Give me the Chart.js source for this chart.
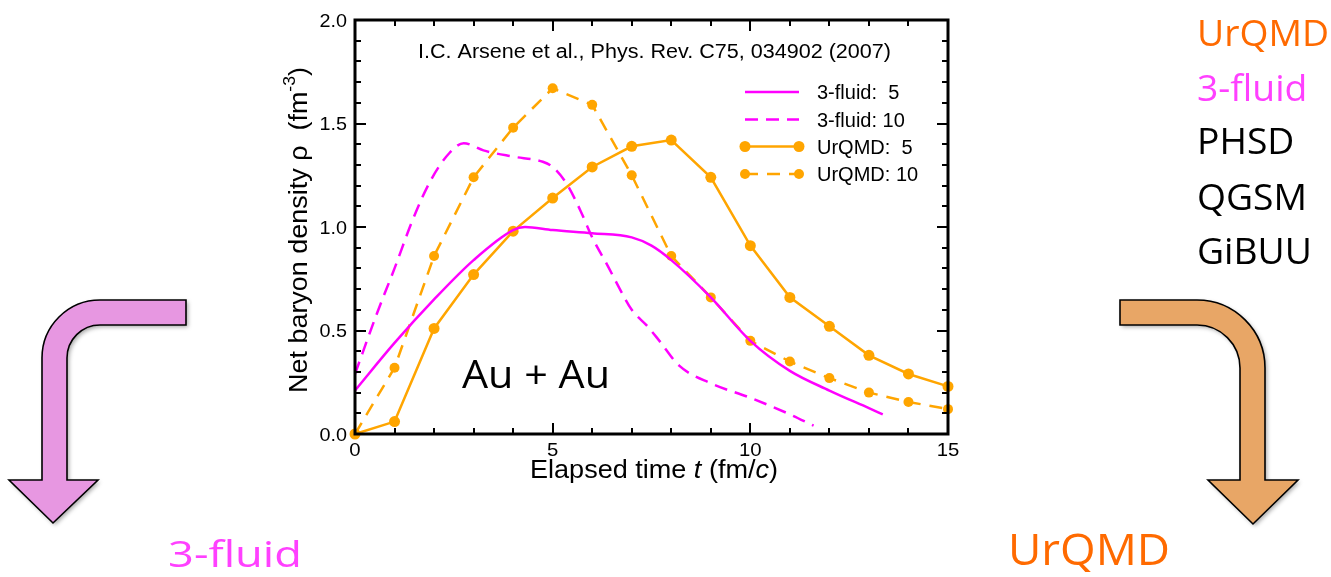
<!DOCTYPE html>
<html>
<head>
<meta charset="utf-8">
<script src="https://cdn.jsdelivr.net/npm/chart.js@4.4.1/dist/chart.umd.min.js"></script>
<style>
  html, body { margin: 0; background: #fff; }
  canvas { display: block; }
</style>
</head>
<body>
<canvas id="grafico" width="1331" height="577"></canvas>
<script>
// Dados (Au + Au, densidade bariônica líquida)
const tempoUrqmd = [0, 1, 2, 3, 4, 5, 6, 7, 8, 9, 10, 11, 12, 13, 14, 15];
const urqmd5 = [0, 0.06, 0.51, 0.77, 0.98, 1.14, 1.29, 1.39, 1.42, 1.24, 0.91, 0.66, 0.52, 0.38, 0.29, 0.23];
const urqmd10 = [0, 0.32, 0.86, 1.24, 1.48, 1.67, 1.59, 1.25, 0.86, 0.66, 0.45, 0.35, 0.27, 0.20, 0.155, 0.12];

const fluido5T = [0, 1, 2, 3, 4, 4.3, 5, 6, 7, 7.5, 8, 9, 10, 11, 12, 13, 13.35];
const fluido5 = [0.21, 0.44, 0.65, 0.84, 0.985, 1.0, 0.985, 0.97, 0.95, 0.91, 0.84, 0.66, 0.45, 0.305, 0.21, 0.125, 0.095];

const fluido10T = [0, 0.55, 1, 1.45, 1.9, 2.4, 2.75, 3.25, 4, 4.75, 5, 5.35, 5.7, 6, 6.4, 6.7, 7, 7.4, 7.7, 8.2, 9, 10, 11, 11.6];
const fluido10 = [0.29, 0.58, 0.80, 1.03, 1.22, 1.36, 1.405, 1.37, 1.34, 1.315, 1.29, 1.21, 1.08, 0.95, 0.81, 0.70, 0.60, 0.52, 0.45, 0.33, 0.245, 0.175, 0.095, 0.04];

const ticksX = [0, 5, 10, 15];
const ticksY = [0, 0.5, 1.0, 1.5, 2.0];
const legendas = ['3-fluid:  5', '3-fluid: 10', 'UrQMD:  5', 'UrQMD: 10'];
const modelos = ['UrQMD', '3-fluid', 'PHSD', 'QGSM', 'GiBUU'];

const MAGENTA = '#ff00ff';
const LARANJA = '#ffa500';
const ARIAL = '"Liberation Sans", Arial, sans-serif';
const SLIDE = '"Open Sans", sans-serif';

function pares(xs, ys) {
  return xs.map((x, i) => ({ x: x, y: ys[i] }));
}

// texto com trechos de fontes diferentes; esc = esticamento horizontal
function texto(ctx, trechos, x, y, alinhamento, largura, esticar) {
  let total = 0;
  trechos.forEach(t => { ctx.font = t.font; t.w = ctx.measureText(t.txt).width; total += t.w; });
  const esc = largura ? largura / total : (esticar || 1);
  ctx.save();
  ctx.translate(x, y);
  ctx.scale(esc, 1);
  let cx = 0;
  if (alinhamento === 'center') cx = -total / 2;
  if (alinhamento === 'right') cx = -total;
  ctx.textAlign = 'left';
  ctx.textBaseline = 'alphabetic';
  trechos.forEach(t => {
    ctx.font = t.font;
    ctx.fillStyle = t.cor || '#000';
    ctx.fillText(t.txt, cx, t.dy || 0);
    cx += t.w;
  });
  ctx.restore();
}

function seta(ctx, pontos, cor) {
  ctx.save();
  ctx.shadowColor = 'rgba(0,0,0,0.35)';
  ctx.shadowBlur = 4;
  ctx.shadowOffsetX = 2;
  ctx.shadowOffsetY = 2;
  ctx.beginPath();
  pontos(ctx);
  ctx.closePath();
  ctx.fillStyle = cor;
  ctx.fill();
  ctx.shadowColor = 'transparent';
  ctx.lineWidth = 1.6;
  ctx.strokeStyle = '#000';
  ctx.stroke();
  ctx.restore();
}

const decoracao = {
  id: 'decoracao',
  afterDraw(chart) {
    const ctx = chart.ctx;
    const a = chart.chartArea;
    const sx = chart.scales.x, sy = chart.scales.y;

    // moldura e marcas para dentro
    ctx.save();
    ctx.strokeStyle = '#000';
    ctx.lineWidth = 2;
    ctx.beginPath();
    for (let v = 1; v < 15; v++) {
      const px = Math.round(sx.getPixelForValue(v));
      const L = v % 5 === 0 ? 11 : 6;
      ctx.moveTo(px, a.bottom); ctx.lineTo(px, a.bottom - L);
      ctx.moveTo(px, a.top); ctx.lineTo(px, a.top + L);
    }
    for (let k = 1; k < 20; k++) {
      const py = Math.round(sy.getPixelForValue(k / 10));
      const L = k % 5 === 0 ? 11 : 6;
      ctx.moveTo(a.left, py); ctx.lineTo(a.left + L, py);
      ctx.moveTo(a.right, py); ctx.lineTo(a.right - L, py);
    }
    ctx.stroke();
    ctx.lineWidth = 3;
    ctx.strokeRect(a.left, a.top, a.right - a.left, a.bottom - a.top);
    ctx.restore();

    // rótulos das marcas
    const f18 = '18px ' + ARIAL;
    ticksX.forEach(v => {
      texto(ctx, [{ txt: String(v), font: f18 }], sx.getPixelForValue(v), a.bottom + 22, 'center', null, 1.13);
    });
    ticksY.forEach(v => {
      texto(ctx, [{ txt: v.toFixed(1), font: f18 }], a.left - 8, sy.getPixelForValue(v) + 6.5, 'right', null, 1.1);
    });

    // títulos dos eixos
    const f25 = '25px ' + ARIAL, i25 = 'italic 25px ' + ARIAL;
    texto(ctx, [
      { txt: 'Elapsed time ', font: f25 }, { txt: 't', font: i25 },
      { txt: ' (fm/', font: f25 }, { txt: 'c', font: i25 }, { txt: ')', font: f25 }
    ], 654, 478, 'center', 248);

    ctx.save();
    ctx.translate(307, 230);
    ctx.rotate(-Math.PI / 2);
    const f26 = '26px ' + ARIAL;
    texto(ctx, [
      { txt: 'Net baryon density ρ  (fm', font: f26 },
      { txt: '-3', font: '17px ' + ARIAL, dy: -12 },
      { txt: ')', font: f26 }
    ], 0, 0, 'center', 326);
    ctx.restore();

    // referência e rótulo
    texto(ctx, [{ txt: 'I.C. Arsene et al., Phys. Rev. C75, 034902 (2007)', font: '19.5px ' + ARIAL }], 418, 58, 'left', 473);
    texto(ctx, [{ txt: 'Au + Au', font: '38px ' + SLIDE }], 462, 388, 'left', 148);

    // legenda
    const linhas = [92, 119.5, 146.5, 174];
    chart.data.datasets.forEach((ds, i) => {
      const y = linhas[i];
      ctx.save();
      ctx.strokeStyle = ds.borderColor;
      ctx.lineWidth = ds.borderWidth;
      ctx.setLineDash(ds.borderDash || []);
      ctx.beginPath();
      ctx.moveTo(745, y); ctx.lineTo(799, y);
      ctx.stroke();
      if (ds.pointRadius > 0) {
        ctx.fillStyle = ds.pointBackgroundColor;
        [745, 799].forEach(px => { ctx.beginPath(); ctx.arc(px, y, ds.pointRadius, 0, 2 * Math.PI); ctx.fill(); });
      }
      ctx.restore();
      texto(ctx, [{ txt: legendas[i], font: '20px ' + ARIAL }], 817, y + 7, 'left');
    });

    // setas do slide
    seta(ctx, c => {
      c.moveTo(186, 300); c.lineTo(100, 300);
      c.arc(100, 358, 58, -Math.PI / 2, Math.PI, true);
      c.lineTo(42, 480); c.lineTo(9, 480); c.lineTo(53, 523); c.lineTo(98, 480); c.lineTo(67, 480);
      c.lineTo(67, 358);
      c.arc(100, 358, 33, Math.PI, -Math.PI / 2, false);
      c.lineTo(186, 325);
    }, '#e797e1');
    seta(ctx, c => {
      c.moveTo(1120, 300); c.lineTo(1197, 300);
      c.arc(1197, 368, 68, -Math.PI / 2, 0, false);
      c.lineTo(1265, 480); c.lineTo(1298, 480); c.lineTo(1253, 524); c.lineTo(1208, 480); c.lineTo(1240, 480);
      c.lineTo(1240, 368);
      c.arc(1197, 368, 43, 0, -Math.PI / 2, true);
      c.lineTo(1120, 325);
    }, '#e8a666');

    // textos do slide
    const cores = ['#ff6a00', '#ff40ff', '#000', '#000', '#000'];
    const bases = [46, 101, 154, 209.5, 264];
    const f36 = '36px ' + SLIDE;
    ctx.font = f36;
    const escala = 132 / ctx.measureText('UrQMD').width;
    modelos.forEach((m, i) => {
      texto(ctx, [{ txt: m, font: f36, cor: cores[i] }], 1197, bases[i], 'left', null, escala);
    });
    texto(ctx, [{ txt: 'UrQMD', font: '43px ' + SLIDE, cor: '#ff6a00' }], 1008, 565, 'left', 162);
    texto(ctx, [{ txt: '3-fluid', font: '36px ' + SLIDE, cor: '#ff40ff' }], 168, 567, 'left', 134);
  }
};

new Chart(document.getElementById('grafico'), {
  type: 'line',
  data: {
    datasets: [{
      label: legendas[0],
      data: pares(fluido5T, fluido5),
      borderColor: MAGENTA,
      borderWidth: 2.5,
      pointRadius: 0,
      cubicInterpolationMode: 'monotone'
    }, {
      label: legendas[1],
      data: pares(fluido10T, fluido10),
      borderColor: MAGENTA,
      borderWidth: 2.5,
      borderDash: [13, 8],
      pointRadius: 0,
      cubicInterpolationMode: 'monotone'
    }, {
      label: legendas[2],
      data: pares(tempoUrqmd, urqmd5),
      borderColor: LARANJA,
      borderWidth: 2.5,
      pointRadius: 5.5,
      pointBorderWidth: 0,
      pointBackgroundColor: LARANJA,
      tension: 0,
      clip: false
    }, {
      label: legendas[3],
      data: pares(tempoUrqmd, urqmd10),
      borderColor: LARANJA,
      borderWidth: 2.5,
      borderDash: [13, 9],
      pointRadius: 5,
      pointBorderWidth: 0,
      pointBackgroundColor: LARANJA,
      tension: 0,
      clip: false
    }]
  },
  options: {
    responsive: false,
    animation: false,
    devicePixelRatio: 1,
    layout: { padding: { left: 275, top: 20, right: 383, bottom: 113 } },
    plugins: { legend: { display: false }, tooltip: { enabled: false } },
    scales: {
      x: {
        type: 'linear', min: 0, max: 15,
        afterBuildTicks: s => { s.ticks = ticksX.map(v => ({ value: v })); },
        afterFit: s => { s.height = 30; },
        grid: { display: false, drawTicks: false },
        border: { display: false },
        ticks: { display: false }
      },
      y: {
        type: 'linear', min: 0, max: 2,
        afterBuildTicks: s => { s.ticks = ticksY.map(v => ({ value: v })); },
        afterFit: s => { s.width = 80; },
        grid: { display: false, drawTicks: false },
        border: { display: false },
        ticks: { display: false }
      }
    }
  },
  plugins: [decoracao]
});
</script>
</body>
</html>
